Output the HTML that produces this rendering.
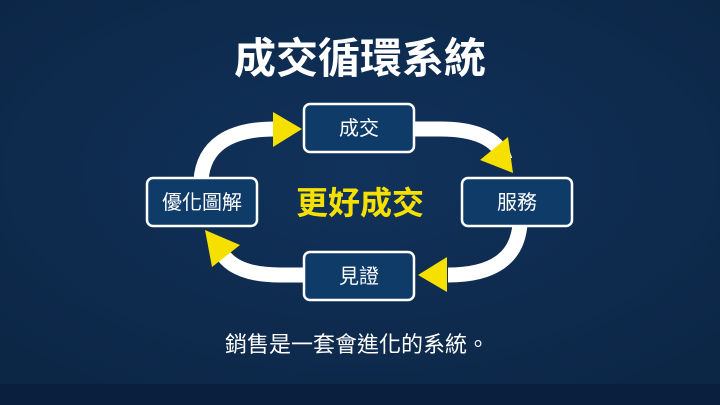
<!DOCTYPE html>
<html><head><meta charset="utf-8"><style>
html,body{margin:0;padding:0;}
body{width:720px;height:405px;overflow:hidden;background:#0e2a4b;font-family:"Liberation Sans","Noto Sans CJK TC",sans-serif;}
</style></head><body>
<svg width="720" height="405" viewBox="0 0 720 405" xmlns="http://www.w3.org/2000/svg" style="display:block">
<defs><radialGradient id="bg" cx="50%" cy="45%" r="70%"><stop offset="0" stop-color="#11325b"/><stop offset="1" stop-color="#0c2645"/></radialGradient></defs>
<rect width="720" height="384" fill="url(#bg)"/>
<rect y="384" width="720" height="21" fill="#0a1f3d"/>
<text x="360" y="73" text-anchor="middle" font-size="42" font-weight="bold" fill="#fff" font-family="Liberation Sans, Noto Sans CJK TC, sans-serif">成交循環系統</text>
<g fill="none" stroke="#fff" stroke-width="15">
<path d="M201 180 Q205 129 275 129"/>
<path d="M413 129 L440 129 Q495 129 505 160"/>
<path d="M520 224 Q516 275 448 275"/>
<path d="M305 275 L280 275 Q228 275 218 245"/>
</g>
<g fill="#f5e000">
<polygon points="273,112 302,129 273,147"/>
<polygon points="508,137 480,160 513,173"/>
<polygon points="447,257 418,275 447,292"/>
<polygon points="205,230 240,245 212,267"/>
</g>
<g fill="#0f3b69" stroke="#fff" stroke-width="2.5">
<rect x="304" y="104" width="110" height="48" rx="6"/>
<rect x="462" y="178" width="110" height="48" rx="6"/>
<rect x="304" y="252" width="110" height="48" rx="6"/>
<rect x="147" y="178" width="110" height="48" rx="6"/>
</g>
<g fill="#fff" font-size="20" text-anchor="middle" font-family="Liberation Sans, Noto Sans CJK TC, sans-serif">
<text x="359" y="135">成交</text>
<text x="517" y="209">服務</text>
<text x="359" y="283">見證</text>
<text x="202" y="209">優化圖解</text>
</g>
<text x="360" y="214" text-anchor="middle" font-size="32" font-weight="bold" fill="#f5e000" font-family="Liberation Sans, Noto Sans CJK TC, sans-serif">更好成交</text>
<text x="357" y="352" text-anchor="middle" font-size="22" fill="#fff" font-family="Liberation Sans, Noto Sans CJK TC, sans-serif">銷售是一套會進化的系統。</text>
</svg>
</body></html>
